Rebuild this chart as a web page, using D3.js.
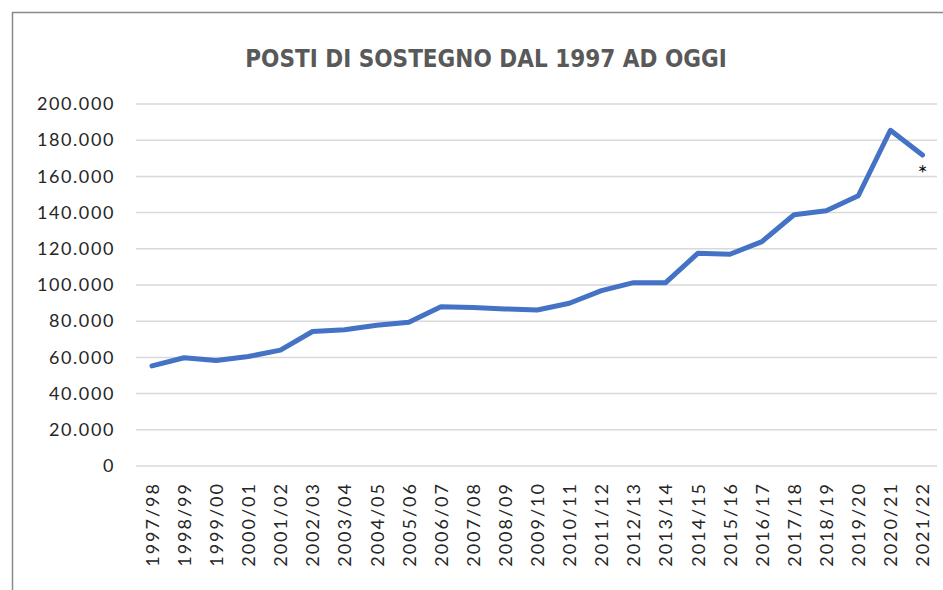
<!DOCTYPE html>
<html>
<head>
<meta charset="utf-8">
<script src="https://cdn.jsdelivr.net/npm/d3@7"></script>
<style>
  body { margin: 0; background: #fff; }
  text { font-family: Lato, "Open Sans", sans-serif; }
</style>
</head>
<body>
<div id="chart-container"></div>
<script>
// Anni scolastici
const years = ["1997/98", "1998/99", "1999/00", "2000/01", "2001/02", "2002/03", "2003/04",
  "2004/05", "2005/06", "2006/07", "2007/08", "2008/09", "2009/10", "2010/11", "2011/12",
  "2012/13", "2013/14", "2014/15", "2015/16", "2016/17", "2017/18", "2018/19", "2019/20",
  "2020/21", "2021/22"];

// Posti di sostegno (stimati dal grafico)
const posti = [55300, 59800, 58300, 60500, 64000, 74300, 75300, 77800, 79400, 88000, 87600,
  86800, 86200, 89900, 96900, 101300, 101300, 117500, 117000, 124000, 138800, 141000,
  149300, 185500, 171800];

const yTicks = [0, 20000, 40000, 60000, 80000, 100000, 120000, 140000, 160000, 180000, 200000];

const width = 943;
const height = 590;
const margin = { top: 104, right: 5, bottom: 124, left: 136 };

const svg = d3.select('#chart-container').append('svg')
  .attr('width', width)
  .attr('height', height);

// Cornice
svg.append('path')
  .attr('d', `M12.5,${height} V12.5 H${width}`)
  .attr('fill', 'none')
  .attr('stroke', '#8a8a8a')
  .attr('stroke-width', 1.5);

const xScale = d3.scalePoint()
  .domain(years)
  .range([152, 922.5]);

const yScale = d3.scaleLinear()
  .domain([0, 200000])
  .range([height - margin.bottom, margin.top]);

// Griglia
svg.append('g')
  .selectAll('line')
  .data(yTicks)
  .enter().append('line')
  .attr('x1', margin.left)
  .attr('x2', 937)
  .attr('y1', d => yScale(d))
  .attr('y2', d => yScale(d))
  .attr('stroke', '#d9d9d9')
  .attr('stroke-width', 1.5);

// Asse y
const fmt = d => d === 0 ? '0' : d3.format(',')(d).replace(/,/g, '.');
const yAxis = svg.append('g')
  .attr('transform', `translate(${margin.left},0)`)
  .call(d3.axisLeft(yScale).tickValues(yTicks).tickFormat(fmt).tickSize(0).tickPadding(21));
yAxis.select('.domain').remove();
yAxis.selectAll('text')
  .attr('font-size', 18)
  .attr('letter-spacing', 1.6)
  .attr('fill', '#262626')
  .style('font-family', 'Lato, sans-serif');

// Asse x
const xAxis = svg.append('g')
  .attr('transform', `translate(0,${yScale(0)})`)
  .call(d3.axisBottom(xScale).tickSize(0));
xAxis.select('.domain').remove();
xAxis.selectAll('text')
  .attr('transform', 'rotate(-90)')
  .attr('text-anchor', 'end')
  .attr('x', -16)
  .attr('y', 0)
  .attr('dy', '0.35em')
  .attr('font-size', 18)
  .attr('letter-spacing', 2)
  .attr('fill', '#262626')
  .style('font-family', 'Lato, sans-serif');

// Linea
const line = d3.line()
  .x((d, i) => xScale(years[i]))
  .y(d => yScale(d));

svg.append('path')
  .datum(posti)
  .attr('fill', 'none')
  .attr('stroke', '#4472c4')
  .attr('stroke-width', 5)
  .attr('stroke-linejoin', 'round')
  .attr('stroke-linecap', 'round')
  .attr('d', line);

// Asterisco sull'ultimo valore
svg.append('text')
  .attr('x', xScale(years[years.length - 1]))
  .attr('y', yScale(posti[posti.length - 1]) + 27)
  .attr('text-anchor', 'middle')
  .attr('font-size', 24)
  .attr('fill', '#111')
  .text('*');

// Titolo
svg.append('text')
  .attr('x', 486)
  .attr('y', 67)
  .attr('text-anchor', 'middle')
  .attr('font-size', 24)
  .attr('font-weight', 'bold')
  .attr('fill', '#595959')
  .style('font-family', '"Liberation Sans Narrow", "DejaVu Sans Condensed", sans-serif')
  .text('POSTI DI SOSTEGNO DAL 1997 AD OGGI');
</script>
</body>
</html>
